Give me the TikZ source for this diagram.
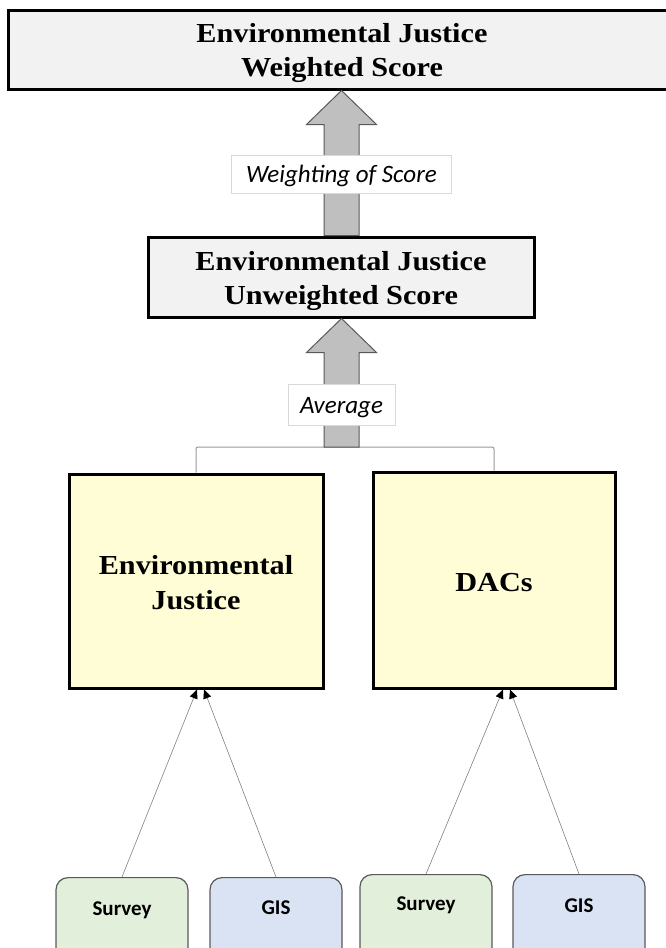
\documentclass[tikz,border=0pt]{standalone}
\usepackage{fontspec}
\setmainfont{Liberation Serif}[FakeStretch=1.1]
\newfontfamily\labelfont{Carlito}
\usetikzlibrary{calc,arrows.meta}

\definecolor{scorefill}{HTML}{F2F2F2}
\definecolor{themefill}{HTML}{FFFDD6}
\definecolor{surveyfill}{HTML}{E2EFDA}
\definecolor{gisfill}{HTML}{DAE3F3}
\definecolor{arrowfill}{HTML}{BFBFBF}
\definecolor{arrowline}{HTML}{595959}
\definecolor{tagline}{HTML}{D9D9D9}
\definecolor{feedline}{HTML}{7F7F7F}

% move a block of centred lines by #1 without changing its reported size
\newcommand{\shiftlines}[2]{\raisebox{#1}[\height][\depth]{\begin{tabular}{@{}c@{}}#2\end{tabular}}}

\tikzset{
  scorebox/.style={draw=black, line width=3pt, fill=scorefill, align=center,
    inner sep=0pt, font=\bfseries\fontsize{27.5}{34.5}\selectfont},
  themebox/.style={draw=black, line width=3pt, fill=themefill, align=center,
    inner sep=0pt, font=\bfseries\fontsize{27.5}{35}\selectfont},
  sourcebox/.style={draw=arrowline, line width=1.2pt, rounded corners=12pt,
    inner sep=0pt, minimum width=132pt, minimum height=100pt, anchor=north,
    font=\labelfont\bfseries\fontsize{21}{25}\selectfont},
  tagbox/.style={draw=tagline, line width=0.8pt, fill=white, inner sep=0pt,
    font=\labelfont\itshape\fontsize{25}{30}\selectfont},
  blockarrow/.style={draw=arrowline, line width=1pt, fill=arrowfill, line join=miter},
  bracketline/.style={draw=black!40, line width=1pt, rounded corners=2pt},
  feed/.style={draw=feedline, line width=0.6pt,
    -{Triangle[length=9pt,width=8pt,fill=black,color=black]}},
}

\begin{document}
\begin{tikzpicture}[x=1pt,y=-1pt]
\useasboundingbox (0,0) rectangle (666,948);
\clip (0,0) rectangle (666,948);

% score boxes
\node[scorebox, minimum width=668pt, minimum height=79pt] (weighted) at (342,49.5)
  {\shiftlines{-3pt}{Environmental Justice\\Weighted Score}};
\node[scorebox, minimum width=386pt, minimum height=80pt] (unweighted) at (341,277)
  {\shiftlines{-3.5pt}{Environmental Justice\\Unweighted Score}};

% theme boxes
\node[themebox, minimum width=254pt, minimum height=214pt] (ej) at (196,581)
  {\shiftlines{-4pt}{Environmental\\Justice}};
\node[themebox, minimum width=242pt, minimum height=216pt] (dacs) at (494,580)
  {\shiftlines{-4pt}{DACs}};

% data sources (their lower part runs off the page)
\node[sourcebox, fill=surveyfill] (survey1) at (122,877) {\shiftlines{17pt}{Survey}};
\node[sourcebox, fill=gisfill]    (gis1)    at (276,877) {\shiftlines{18pt}{GIS}};
\node[sourcebox, fill=surveyfill] (survey2) at (426,874) {\shiftlines{19pt}{Survey}};
\node[sourcebox, fill=gisfill]    (gis2)    at (579,874) {\shiftlines{17pt}{GIS}};

% bracket joining the two themes
\coordinate (avg) at (341.5,447);
\draw[bracketline] (ej.north) |- (avg) -| (dacs.north);

% block arrow: average -> unweighted score
\draw[blockarrow]
  ($(avg)+(-17.5,0)$) -- ($(avg |- unweighted.south)+(-17.5,34)$)
  -- ($(avg |- unweighted.south)+(-35,34)$) -- (avg |- unweighted.south)
  -- ($(avg |- unweighted.south)+(35,34)$) -- ($(avg |- unweighted.south)+(17.5,34)$)
  -- ($(avg)+(17.5,0)$) -- cycle;

% block arrow: unweighted -> weighted score
\coordinate (wbase) at (avg |- unweighted.north);
\draw[blockarrow]
  ($(wbase)+(-17.5,0)$) -- ($(wbase |- weighted.south)+(-17.5,34)$)
  -- ($(wbase |- weighted.south)+(-35,34)$) -- (wbase |- weighted.south)
  -- ($(wbase |- weighted.south)+(35,34)$) -- ($(wbase |- weighted.south)+(17.5,34)$)
  -- ($(wbase)+(17.5,0)$) -- cycle;

% arrow labels
\node[tagbox, minimum width=220pt, minimum height=38pt] (tagweight) at (341.5,174.5)
  {\shiftlines{-2pt}{Weighting of Score}};
\node[tagbox, minimum width=107pt, minimum height=41pt] (tagavg) at (341.5,404.5)
  {\shiftlines{-3pt}{Average}};

% inputs into each theme
\coordinate (ejinA) at ($(ej.south)+(1,0)$);
\coordinate (ejinB) at ($(ej.south)+(8,0)$);
\coordinate (dacsinA) at ($(dacs.south)+(9,0)$);
\coordinate (dacsinB) at ($(dacs.south)+(16,0)$);
\draw[feed] (survey1.north) -- (ejinA);
\draw[feed] (gis1.north) -- (ejinB);
\draw[feed] (survey2.north) -- (dacsinA);
\draw[feed] (gis2.north) -- (dacsinB);
\end{tikzpicture}
\end{document}
